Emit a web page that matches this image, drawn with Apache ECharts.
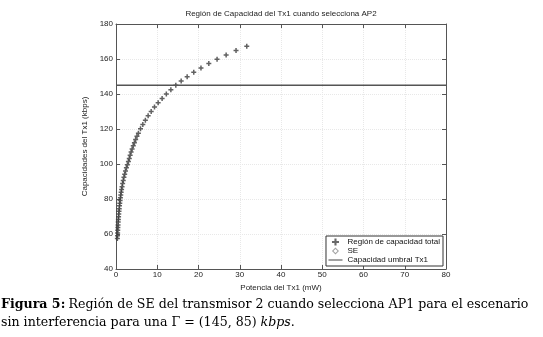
<!DOCTYPE html>
<html>
<head>
<meta charset="utf-8">
<script src="https://cdn.jsdelivr.net/npm/echarts@6/dist/echarts.min.js"></script>
<style>
html,body{margin:0;padding:0;background:#fff;}
#c{width:543px;height:337px;}
</style>
</head>
<body>
<div id="c"></div>
<script>
// Power of Tx1 (mW) for each point of the capacity region
var powerTx1 = [0.335,0.362,0.392,0.423,0.458,0.493,0.535,0.576,0.624,0.673,0.729,0.785,0.851,0.917,0.994,1.071,1.16,1.25,1.355,1.468,
  1.605,1.757,1.922,2.104,2.30,2.52,2.76,3.01,3.22,3.43,3.66,3.91,4.18,4.46,4.76,5.08,5.43,
  5.94,6.50,7.12,7.79,8.53,9.33,10.22,11.18,12.2,13.3,14.5,15.8,17.25,18.85,20.6,22.5,24.5,26.7,29.1,31.7];
// Capacity of Tx1 (kbps)
var capacityTx1 = [57.5,59,60.6,62.1,63.7,65.2,66.8,68.3,69.9,71.4,73,74.5,76.1,77.6,79.2,80.7,82.3,83.8,85.4,87,
  88.8,90.6,92.4,94.2,96,97.8,99.6,101.4,103.2,105,106.8,108.6,110.4,112.2,114,115.8,117.6,
  120.09,122.57,125.06,127.54,130.03,132.51,135.0,137.48,139.97,142.45,144.94,147.42,149.91,152.39,154.88,157.36,159.85,162.33,164.82,167.3];
var sePoints = [];
var thresholdCapacity = 145;
var xRange = [0, 80];
var yRange = [40, 180];
var seriesNames = ['Región de capacidad total', 'SE', 'Capacidad umbral Tx1'];

var regionData = powerTx1.map(function(p, i){ return [p, capacityTx1[i]]; });
var plusPath = 'path://M3.5,0H6.5V3.5H10V6.5H6.5V10H3.5V6.5H0V3.5H3.5Z';
var diamondPath = 'path://M5,0L10,5L5,10L0,5Z M5,2L2,5L5,8L8,5Z';

var chart = echarts.init(document.getElementById('c'), null, {renderer:'canvas'});
var axisFont = {fontFamily:'Liberation Sans, Arial, sans-serif', fontSize:8, color:'#222'};
var baseAxis = {
  type:'value',
  axisLine:{show:true, onZero:false, lineStyle:{color:'#555', width:1}},
  axisTick:{show:true, inside:true, length:4, lineStyle:{color:'#555'}},
  splitLine:{show:false}
};
chart.setOption({
  animation:false,
  backgroundColor:'#fff',
  grid:{left:116, right:97, top:24, bottom:68, containLabel:false},
  xAxis:[
    Object.assign({}, baseAxis, {min:xRange[0], max:xRange[1], interval:10, position:'bottom',
      axisLabel:Object.assign({margin:2}, axisFont),
      splitLine:{show:true, lineStyle:{color:'#e8e8e8', type:'dotted', width:1}},
      name:'Potencia del Tx1 (mW)', nameLocation:'middle', nameGap:8,
      nameTextStyle:{fontFamily:'Liberation Sans, Arial, sans-serif', fontSize:8, color:'#222', verticalAlign:'top'}}),
    Object.assign({}, baseAxis, {min:xRange[0], max:xRange[1], interval:10, position:'top', axisLabel:{show:false}})
  ],
  yAxis:[
    Object.assign({}, baseAxis, {min:yRange[0], max:yRange[1], interval:20, position:'left',
      axisLabel:Object.assign({margin:3}, axisFont),
      splitLine:{show:true, lineStyle:{color:'#e8e8e8', type:'dotted', width:1}},
      name:'Capacidades del Tx1 (kbps)', nameLocation:'middle', nameGap:20,
      nameTextStyle:{fontFamily:'Liberation Sans, Arial, sans-serif', fontSize:8, color:'#222'}}),
    Object.assign({}, baseAxis, {min:yRange[0], max:yRange[1], interval:20, position:'right', axisLabel:{show:false}})
  ],
  legend:{
    right:100, bottom:71, orient:'vertical',
    backgroundColor:'#fff', borderColor:'#333', borderWidth:1, borderRadius:0,
    padding:[2,3,2,2], itemGap:1, itemWidth:14, itemHeight:7,
    textStyle:{fontFamily:'Liberation Sans, Arial, sans-serif', fontSize:8, color:'#111'},
    data:[
      {name:seriesNames[0], icon:plusPath, itemStyle:{color:'#444'}},
      {name:seriesNames[1], icon:diamondPath, itemStyle:{color:'#888'}},
      {name:seriesNames[2], itemStyle:{opacity:0}, lineStyle:{color:'#444', width:1}}
    ]
  },
  graphic:[
    {type:'text', x:281, y:10, style:{text:'Región de Capacidad del Tx1 cuando selecciona AP2', textAlign:'center',
      font:'8px "Liberation Sans", Arial, sans-serif', fill:'#222'}},
    {type:'text', left:1, top:298, style:{
      rich:{b:{fontFamily:'DejaVu Serif, serif', fontSize:12.6, fontWeight:'bold', fill:'#000'},
            n:{fontFamily:'DejaVu Serif, serif', fontSize:12.6, fill:'#000'}},
      text:'{b|Figura 5:} {n|Región de SE del transmisor 2 cuando selecciona AP1 para el escenario}'}},
    {type:'text', left:1, top:316, style:{
      rich:{n:{fontFamily:'DejaVu Serif, serif', fontSize:12.6, fill:'#000'},
            i:{fontFamily:'DejaVu Serif, serif', fontSize:12.6, fontStyle:'italic', fill:'#000'}},
      text:'{n|sin interferencia para una Γ = (145, 85) }{i|kbps}{n|.}'}}
  ],
  series:[
    {name:seriesNames[0], type:'scatter', data:regionData, symbol:plusPath, symbolSize:5,
      itemStyle:{color:'#3a3a3a'}, xAxisIndex:0, yAxisIndex:0},
    {name:seriesNames[1], type:'scatter', data:sePoints, symbol:diamondPath, symbolSize:6,
      itemStyle:{color:'#888'}},
    {name:seriesNames[2], type:'line', data:[[xRange[0], thresholdCapacity],[xRange[1], thresholdCapacity]],
      symbol:'none', lineStyle:{color:'#555', width:1.5}, itemStyle:{color:'#555'}}
  ]
});
</script>
</body>
</html>
